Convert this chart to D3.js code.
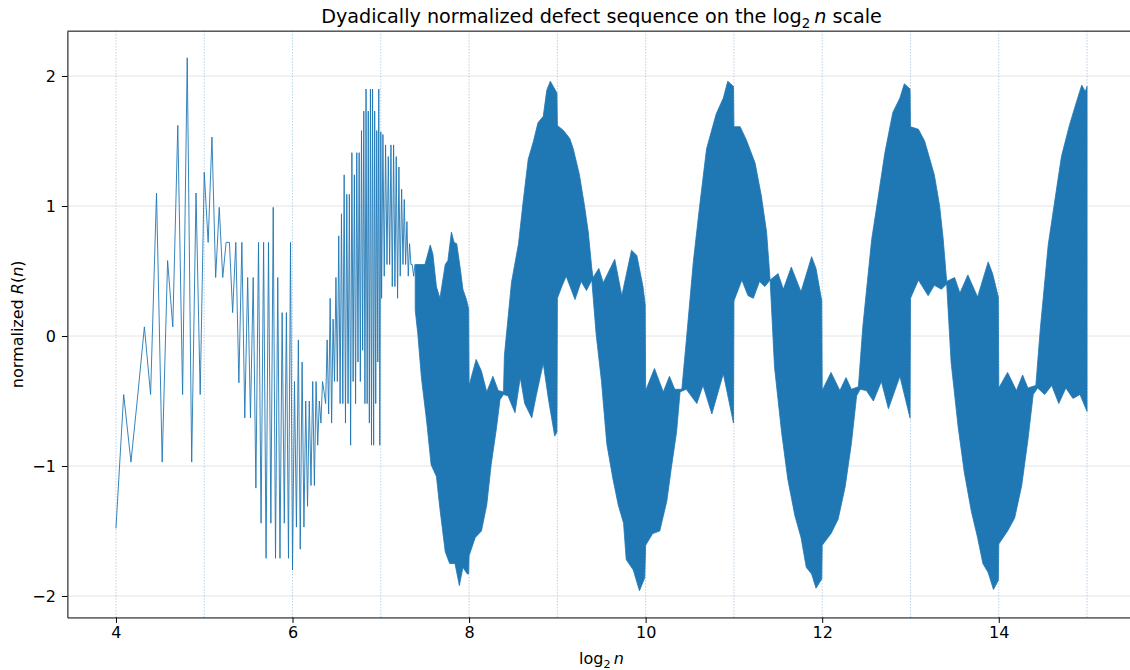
<!DOCTYPE html>
<meta charset="utf-8">
<style>
body { margin: 0; background: #fff; }
text { font-family: "DejaVu Sans", sans-serif; fill: #000; }
.axis path, .axis line { stroke: #000; stroke-width: 1; }
.axis text { font-size: 16px; }
</style>
<svg width="1130" height="670" class="top"></svg>
<script src="https://d3js.org/d3.v7.min.js"></script>
<script>

// one value per n, n = 16 .. 128
var firstN = 16;
var earlyR = [
  -1.48, -0.45, -0.97, -0.45, 0.07, -0.45, 1.10, -0.97, 0.58, 0.07,
  1.62, -0.45, 2.14, -0.97, 1.10, -0.45, 1.26, 0.72, 1.53, 0.45,
  0.99, 0.45, 0.72, 0.72, 0.18, 0.72, -0.36, 0.72, -0.63, 0.45,
  -0.63, 0.45, -1.17, 0.72, -1.44, 0.72, -1.71, 0.72, -1.44, 0.99,
  -1.71, 0.45, -1.71, 0.18, -1.44, 0.18, -1.71, 0.72, -1.80, -0.35,
  -1.47, -0.03, -1.64, -0.20, -1.47, -0.50, -1.31, -0.50, -1.15, -0.35,
  -1.15, -0.35, -0.84, -0.50, -0.67, -0.35, -0.43, -0.52, -0.03, -0.60,
  0.29, -0.67, 0.13, -0.35, 0.45, -0.35, 0.77, -0.52, 0.94, -0.52,
  1.24, -0.67, 1.09, -0.52, 1.09, -0.84, 1.41, -0.35, 1.24, -0.52,
  1.41, -0.20, 1.41, -0.35, 1.58, -0.11, 1.73, -0.52, 1.90, -0.52,
  1.73, -0.67, 1.90, -0.84, 1.90, -0.84, 1.73, -0.52, 1.58, -0.20,
  1.90, -0.84, 1.57
];

// visible spikes between log2 n = 7 and 7.4
var spikeX = [7.009, 7.024, 7.039, 7.054, 7.070, 7.085, 7.100, 7.115, 7.130, 7.145,
  7.160, 7.175, 7.190, 7.205, 7.220, 7.236, 7.251, 7.266, 7.281, 7.296,
  7.311, 7.326, 7.341, 7.356, 7.372, 7.387];
var spikeR = [0.29, 1.55, 0.46, 1.47, 0.55, 1.38, 0.55, 1.47, 0.38, 1.47,
  0.38, 1.38, 0.29, 1.30, 0.46, 1.13, 0.55, 1.05, 0.55, 0.88,
  0.46, 0.71, 0.55, 0.55, 0.46, 0.55];

// envelope of the dense part (log2 n > 7.4)
var upperX = [7.39, 7.50, 7.56, 7.59, 7.63, 7.67, 7.73, 7.76, 7.80, 7.83, 7.86, 7.90, 7.93, 7.97, 7.995,
  8.00, 8.08, 8.14, 8.20, 8.27, 8.33, 8.39, 8.40, 8.48, 8.56, 8.61, 8.67, 8.73, 8.78, 8.84, 8.88, 8.92, 8.97, 8.995,
  9.00, 9.07, 9.14, 9.18, 9.25, 9.31, 9.35, 9.39, 9.405, 9.47, 9.52, 9.65, 9.73, 9.84, 9.90, 9.97, 9.995,
  10.00, 10.10, 10.20, 10.27, 10.33, 10.41, 10.46, 10.54, 10.61, 10.69, 10.80, 10.88, 10.93, 10.995,
  11.00, 11.07, 11.14, 11.24, 11.31, 11.37, 11.41, 11.50, 11.56, 11.65, 11.76, 11.88, 11.93, 11.995,
  12.00, 12.10, 12.20, 12.27, 12.33, 12.41, 12.46, 12.56, 12.63, 12.71, 12.80, 12.88, 12.93, 12.995,
  13.00, 13.09, 13.16, 13.27, 13.33, 13.37, 13.41, 13.50, 13.56, 13.65, 13.76, 13.88, 13.93, 13.995,
  14.00, 14.10, 14.20, 14.27, 14.33, 14.42, 14.47, 14.56, 14.63, 14.71, 14.80, 14.88, 14.94, 14.98, 15.00];
var upperR = [0.55, 0.55, 0.70, 0.63, 0.38, 0.29, 0.55, 0.58, 0.80, 0.72, 0.71, 0.52, 0.36, 0.28, 0.21,
  -0.38, -0.18, -0.27, -0.43, -0.31, -0.42, -0.43, -0.15, 0.41, 0.71, 1.02, 1.36, 1.50, 1.64, 1.69, 1.89, 1.96, 1.90, 1.87,
  1.62, 1.58, 1.52, 1.44, 1.24, 0.99, 0.80, 0.52, 0.45, 0.52, 0.41, 0.59, 0.31, 0.66, 0.62, 0.38, 0.24,
  -0.42, -0.25, -0.43, -0.31, -0.41, -0.41, -0.04, 0.57, 0.99, 1.44, 1.71, 1.83, 1.96, 1.92,
  1.61, 1.61, 1.51, 1.33, 1.08, 0.80, 0.43, 0.48, 0.36, 0.53, 0.34, 0.61, 0.52, 0.27,
  -0.42, -0.28, -0.42, -0.32, -0.41, -0.39, 0.07, 0.74, 1.05, 1.41, 1.72, 1.83, 1.94, 1.90,
  1.61, 1.59, 1.50, 1.24, 1.00, 0.75, 0.42, 0.45, 0.33, 0.47, 0.30, 0.57, 0.48, 0.30,
  -0.40, -0.28, -0.42, -0.30, -0.40, -0.38, 0.05, 0.70, 1.02, 1.38, 1.62, 1.80, 1.93, 1.88, 1.92];

var lowerX = [7.39, 7.42, 7.46, 7.52, 7.57, 7.63, 7.67, 7.73, 7.78, 7.84, 7.89, 7.93, 7.98, 7.995,
  8.00, 8.07, 8.14, 8.20, 8.25, 8.31, 8.35, 8.39, 8.44, 8.52, 8.58, 8.63, 8.71, 8.76, 8.84, 8.90, 8.97, 8.995,
  9.00, 9.05, 9.10, 9.20, 9.27, 9.33, 9.39, 9.44, 9.50, 9.56, 9.63, 9.69, 9.75, 9.78, 9.86, 9.93, 9.99,
  10.00, 10.08, 10.16, 10.24, 10.29, 10.35, 10.39, 10.46, 10.58, 10.65, 10.75, 10.88, 10.995,
  11.00, 11.09, 11.16, 11.22, 11.29, 11.35, 11.41, 11.46, 11.54, 11.61, 11.69, 11.76, 11.82, 11.88, 11.93, 11.995,
  12.00, 12.10, 12.18, 12.26, 12.33, 12.39, 12.43, 12.50, 12.58, 12.67, 12.75, 12.88, 12.995,
  13.00, 13.09, 13.20, 13.27, 13.35, 13.41, 13.46, 13.54, 13.61, 13.69, 13.76, 13.82, 13.88, 13.94, 13.995,
  14.00, 14.10, 14.18, 14.26, 14.33, 14.39, 14.44, 14.52, 14.60, 14.68, 14.76, 14.84, 14.92, 15.00];
var lowerR = [0.20, 0.01, -0.32, -0.66, -0.99, -1.08, -1.33, -1.66, -1.75, -1.75, -1.92, -1.78, -1.83, -1.83,
  -1.69, -1.55, -1.50, -1.30, -0.99, -0.71, -0.49, -0.45, -0.46, -0.59, -0.32, -0.52, -0.63, -0.46, -0.21, -0.49, -0.77, -0.74,
  0.29, 0.38, 0.46, 0.28, 0.42, 0.35, 0.43, 0.01, -0.35, -0.83, -1.10, -1.30, -1.44, -1.72, -1.80, -1.96, -1.86,
  -1.61, -1.52, -1.50, -1.27, -1.02, -0.74, -0.43, -0.41, -0.52, -0.38, -0.60, -0.29, -0.67,
  0.27, 0.43, 0.31, 0.29, 0.42, 0.38, 0.43, -0.24, -0.74, -1.10, -1.38, -1.55, -1.78, -1.83, -1.94, -1.87,
  -1.61, -1.52, -1.41, -1.16, -0.83, -0.46, -0.41, -0.42, -0.50, -0.35, -0.56, -0.31, -0.63,
  0.29, 0.43, 0.31, 0.39, 0.36, 0.40, -0.20, -0.70, -1.05, -1.35, -1.55, -1.75, -1.82, -1.95, -1.88,
  -1.60, -1.50, -1.40, -1.15, -0.80, -0.45, -0.40, -0.45, -0.38, -0.52, -0.40, -0.48, -0.45, -0.58];

var xTicks = [4, 6, 8, 10, 12, 14];
var yTicks = [-2, -1, 0, 1, 2];
var xGrid = [4, 5, 6, 7, 8, 9, 10, 11, 12, 13, 14, 15];

var svg = d3.select(".top");

var x = d3.scaleLinear().domain([3.45, 15.55]).range([67.4, 1135.6]);
var y = d3.scaleLinear().domain([-2.165, 2.345]).range([617.45, 31.15]);

var g = svg.append("g");

// grid
g.selectAll(".hgrid")
  .data(yTicks)
  .enter().append("line")
    .attr("x1", x.range()[0]).attr("x2", x.range()[1])
    .attr("y1", y).attr("y2", y)
    .attr("stroke", "#e4e4e4")
    .attr("stroke-width", 1);

g.selectAll(".vgrid")
  .data(xGrid)
  .enter().append("line")
    .attr("x1", x).attr("x2", x)
    .attr("y1", y.range()[0]).attr("y2", y.range()[1])
    .attr("stroke", "#a6c6e2")
    .attr("stroke-width", 1)
    .attr("stroke-dasharray", "1.2,1.8");

// sparse part as a line
var pts = earlyR.map(function(r, i) { return [Math.log2(firstN + i), r]; });
spikeX.forEach(function(v, i) { pts.push([v, spikeR[i]]); });

var line = d3.line()
  .x(function(d) { return x(d[0]); })
  .y(function(d) { return y(d[1]); });

g.append("path")
  .datum(pts)
  .attr("fill", "none")
  .attr("stroke", "#1f77b4")
  .attr("stroke-width", 0.9)
  .attr("d", line);

// dense part as a filled band
var band = upperX.map(function(v, i) { return [v, upperR[i]]; });
for (var i = lowerX.length - 1; i >= 0; i--) band.push([lowerX[i], lowerR[i]]);

g.append("path")
  .datum(band)
  .attr("fill", "#1f77b4")
  .attr("stroke", "#1f77b4")
  .attr("stroke-width", 0.8)
  .attr("d", function(d) { return line(d) + "Z"; });

// axes
g.append("g")
  .attr("class", "axis")
  .attr("transform", "translate(0," + y.range()[0] + ")")
  .call(d3.axisBottom(x).tickValues(xTicks).tickSize(5.5).tickSizeOuter(0).tickPadding(4).tickFormat(d3.format("d")));

g.append("g")
  .attr("class", "axis")
  .attr("transform", "translate(" + x.range()[0] + ",0)")
  .call(d3.axisLeft(y).tickValues(yTicks).tickSize(5.5).tickSizeOuter(0).tickPadding(6).tickFormat(d3.format("d")));

g.selectAll(".axis text").attr("fill", "#000").style("font-family", "'DejaVu Sans', sans-serif");

// top and right spines
g.append("line")
  .attr("x1", x.range()[0]).attr("x2", x.range()[1])
  .attr("y1", y.range()[1]).attr("y2", y.range()[1])
  .attr("stroke", "#000").attr("stroke-width", 1);
g.append("line")
  .attr("x1", x.range()[1]).attr("x2", x.range()[1])
  .attr("y1", y.range()[0]).attr("y2", y.range()[1])
  .attr("stroke", "#000").attr("stroke-width", 1);

var cx = (x.range()[0] + x.range()[1]) / 2;

// title
var title = svg.append("text")
  .attr("x", cx).attr("y", 23)
  .attr("text-anchor", "middle")
  .style("font-size", "19.2px");
title.append("tspan").text("Dyadically normalized defect sequence on the log");
title.append("tspan").attr("dy", 4.5).style("font-size", "13.4px").text("2");
title.append("tspan").attr("dy", -4.5).text("\u2009");
title.append("tspan").style("font-style", "italic").text("n");
title.append("tspan").text(" scale");

// x label
var xl = svg.append("text")
  .attr("x", cx).attr("y", 664)
  .attr("text-anchor", "middle")
  .style("font-size", "16px");
xl.append("tspan").text("log");
xl.append("tspan").attr("dy", 4).style("font-size", "11.2px").text("2");
xl.append("tspan").attr("dy", -4).text("\u2009");
xl.append("tspan").style("font-style", "italic").text("n");

// y label
var yl = svg.append("text")
  .attr("transform", "translate(23," + ((y.range()[0] + y.range()[1]) / 2) + ") rotate(-90)")
  .attr("text-anchor", "middle")
  .style("font-size", "16px");
yl.append("tspan").text("normalized ");
yl.append("tspan").style("font-style", "italic").text("R");
yl.append("tspan").text("(");
yl.append("tspan").style("font-style", "italic").text("n");
yl.append("tspan").text(")");

</script>
